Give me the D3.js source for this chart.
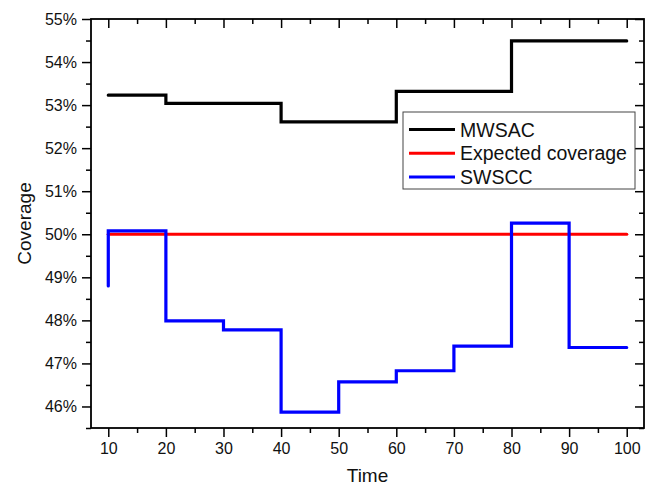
<!DOCTYPE html>
<html>
<head>
<meta charset="utf-8">
<script src="https://cdn.jsdelivr.net/npm/d3@7"></script>
<style>
  body { margin: 0; background: #fff; }
  text { font-family: "Liberation Sans", Arial, sans-serif; fill: #111; }
</style>
</head>
<body>
<div id="chart"></div>
<script>
// step data (percent)
const mwsacTime = [10, 20, 40, 60, 80, 100];
const mwsacValues = [53.23, 53.04, 52.61, 53.32, 54.49, 54.49];

const expectedTime = [10, 100];
const expectedValues = [50, 50];

const swsccTime = [10, 10, 20, 30, 40, 50, 60, 70, 80, 90, 100];
const swsccValues = [48.8, 50.08, 47.99, 47.78, 45.87, 46.57, 46.83, 47.40, 50.26, 47.37, 47.37];

const xTicks = [10, 20, 30, 40, 50, 60, 70, 80, 90, 100];
const yTicks = [46, 47, 48, 49, 50, 51, 52, 53, 54, 55];

const seriesNames = ['MWSAC', 'Expected coverage', 'SWSCC'];
const seriesColors = ['#000000', '#ff0000', '#0000ff'];

const width = 651, height = 488;
const margin = { top: 19, right: 7, bottom: 60, left: 91 };

const svg = d3.select('#chart').append('svg')
  .attr('width', width)
  .attr('height', height);

const x = d3.scaleLinear().domain([7, 103]).range([margin.left, width - margin.right]);
const y = d3.scaleLinear().domain([45.5, 55]).range([height - margin.bottom, margin.top]);

const xMinor = d3.range(15, 101, 10);
const yMinor = d3.range(45.5, 55, 1);

// axes: outer ticks on left / bottom, inner ticks on top / right
function styleAxis(g) {
  g.select('.domain').remove();
  g.selectAll('line').attr('stroke', '#000').attr('stroke-width', 1.5);
  g.selectAll('text')
    .attr('font-size', 16)
    .attr('font-family', '"Liberation Sans", Arial, sans-serif')
    .attr('fill', '#111');
}

svg.append('g')
  .attr('transform', `translate(0,${y.range()[0]})`)
  .call(d3.axisBottom(x).tickValues(xTicks).tickSize(9).tickPadding(6))
  .call(styleAxis);
svg.append('g')
  .attr('transform', `translate(0,${y.range()[0]})`)
  .call(d3.axisBottom(x).tickValues(xMinor).tickSize(5).tickFormat(''))
  .call(styleAxis);

svg.append('g')
  .attr('transform', `translate(${x.range()[0]},0)`)
  .call(d3.axisLeft(y).tickValues(yTicks).tickSize(9).tickPadding(5).tickFormat(d => d + '%'))
  .call(styleAxis);
svg.append('g')
  .attr('transform', `translate(${x.range()[0]},0)`)
  .call(d3.axisLeft(y).tickValues(yMinor).tickSize(5).tickFormat(''))
  .call(styleAxis);

svg.append('g')
  .attr('transform', `translate(0,${y.range()[1]})`)
  .call(d3.axisTop(x).tickValues(xTicks).tickSize(-9).tickFormat(''))
  .call(styleAxis);
svg.append('g')
  .attr('transform', `translate(0,${y.range()[1]})`)
  .call(d3.axisTop(x).tickValues(xMinor).tickSize(-5).tickFormat(''))
  .call(styleAxis);

svg.append('g')
  .attr('transform', `translate(${x.range()[1]},0)`)
  .call(d3.axisRight(y).tickValues(yTicks).tickSize(-9).tickFormat(''))
  .call(styleAxis);
svg.append('g')
  .attr('transform', `translate(${x.range()[1]},0)`)
  .call(d3.axisRight(y).tickValues(yMinor).tickSize(-5).tickFormat(''))
  .call(styleAxis);

// frame
svg.append('rect')
  .attr('x', x.range()[0])
  .attr('y', y.range()[1])
  .attr('width', x.range()[1] - x.range()[0])
  .attr('height', y.range()[0] - y.range()[1])
  .attr('fill', 'none')
  .attr('stroke', '#000')
  .attr('stroke-width', 1.8);

// lines
const line = d3.line()
  .curve(d3.curveStepAfter)
  .x(d => x(d[0]))
  .y(d => y(d[1]));

const series = [
  d3.zip(mwsacTime, mwsacValues),
  d3.zip(expectedTime, expectedValues),
  d3.zip(swsccTime, swsccValues)
];

series.forEach((data, i) => {
  svg.append('path')
    .datum(data)
    .attr('fill', 'none')
    .attr('stroke', seriesColors[i])
    .attr('stroke-width', 3.2)
    .attr('stroke-linejoin', 'miter')
    .attr('stroke-linecap', 'round')
    .attr('d', line);
});

// axis titles
svg.append('text')
  .attr('x', (x.range()[0] + x.range()[1]) / 2)
  .attr('y', 482)
  .attr('text-anchor', 'middle')
  .attr('font-size', 19)
  .text('Time');

svg.append('text')
  .attr('transform', `translate(31,${(y.range()[0] + y.range()[1]) / 2}) rotate(-90)`)
  .attr('text-anchor', 'middle')
  .attr('font-size', 19)
  .text('Coverage');

// legend
const legend = svg.append('g').attr('transform', 'translate(403,112)');
legend.append('rect')
  .attr('width', 232)
  .attr('height', 77)
  .attr('fill', '#fff')
  .attr('stroke', '#444')
  .attr('stroke-width', 1);

seriesNames.forEach((name, i) => {
  const ry = 17.5 + i * 23.7;
  legend.append('line')
    .attr('x1', 6).attr('x2', 52)
    .attr('y1', ry).attr('y2', ry)
    .attr('stroke', seriesColors[i])
    .attr('stroke-width', 3);
  legend.append('text')
    .attr('x', 57)
    .attr('y', ry + 7)
    .attr('font-size', 19.5)
    .text(name);
});
</script>
</body>
</html>
